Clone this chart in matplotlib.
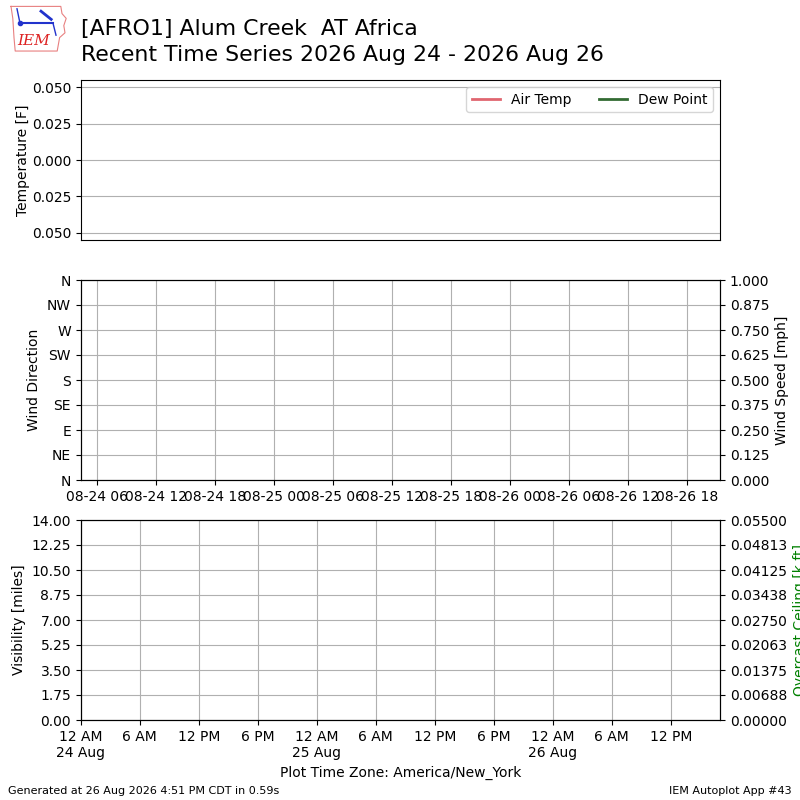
import datetime
import numpy as np
import matplotlib
matplotlib.use("Agg")
import matplotlib.pyplot as plt
import matplotlib.dates as mdates

# Station / title text
station_id = "AFRO1"
station_name = "Alum Creek  AT Africa"
title_dates = "2026 Aug 24 - 2026 Aug 26"

# Time windows (middle panel labelled in UTC, bottom panel in local time)
utc_start = datetime.datetime(2026, 8, 24, 4, 19)
utc_end = datetime.datetime(2026, 8, 26, 21, 19)
local_start = datetime.datetime(2026, 8, 24, 0, 0)
local_end = datetime.datetime(2026, 8, 26, 17, 0)

# No observations were available: all series are empty
obs_times = []
air_temp = []
dew_point = []

# Axis ticks
dir_ticks = [0, 45, 90, 135, 180, 225, 270, 315, 360]
dir_labels = ["N", "NE", "E", "SE", "S", "SW", "W", "NW", "N"]
speed_ticks = [0, 0.125, 0.25, 0.375, 0.5, 0.625, 0.75, 0.875, 1.0]
vis_ticks = [0, 1.75, 3.5, 5.25, 7.0, 8.75, 10.5, 12.25, 14.0]
ceil_ticks = [0, 0.006875, 0.01375, 0.020625, 0.0275, 0.034375, 0.04125, 0.048125, 0.055]
temp_ticks = [-0.05, -0.025, 0.0, 0.025, 0.05]
temp_labels = ["0.050", "0.025", "0.000", "0.025", "0.050"]

mid_ticks = [datetime.datetime(2026, 8, 24, 6) + datetime.timedelta(hours=6 * i) for i in range(11)]
bot_ticks = [datetime.datetime(2026, 8, 24, 0) + datetime.timedelta(hours=6 * i) for i in range(11)]
bot_labels = ["12 AM\n24 Aug", "6 AM", "12 PM", "6 PM", "12 AM\n25 Aug", "6 AM",
              "12 PM", "6 PM", "12 AM\n26 Aug", "6 AM", "12 PM"]

fig = plt.figure(figsize=(8, 8), dpi=100)

# --- logo ---
lax = fig.add_axes([0.01, 0.935, 0.075, 0.06])
iowa_x = [0.05, 0.88, 0.9, 0.97, 0.93, 0.95, 0.86, 0.82, 0.12, 0.1, 0.08, 0.05]
iowa_y = [0.95, 0.95, 0.8, 0.7, 0.55, 0.4, 0.3, 0.02, 0.02, 0.3, 0.7, 0.95]
lax.plot(iowa_x, iowa_y, color="#e88080", lw=0.8)
lax.plot([0.2, 0.75], [0.6, 0.6], color="#2233cc", lw=1.5)
lax.plot([0.2, 0.15], [0.6, 0.9], color="#2233cc", lw=1.0)
lax.plot([0.55, 0.72], [0.85, 0.68], color="#2233cc", lw=2.0)
lax.plot([0.75, 0.8], [0.6, 0.35], color="#2233cc", lw=1.0)
lax.plot([0.2], [0.6], "o", color="#2233cc", ms=3)
lax.text(0.42, 0.08, "IEM", color="#dd2222", fontsize=11, style="italic",
         family="DejaVu Serif", ha="center", va="bottom")
lax.set_xlim(0, 1)
lax.set_ylim(0, 1)
lax.axis("off")

fig.text(0.101, 0.976, f"[{station_id}] {station_name}\nRecent Time Series {title_dates}",
         fontsize=15.8, ha="left", va="top", linespacing=1.35)

# --- temperature panel ---
ax1 = fig.add_axes([0.101, 0.7, 0.799, 0.2])
ax1.plot(obs_times, air_temp, color="#e06670", lw=2, label="Air Temp")
ax1.plot(obs_times, dew_point, color="#336b33", lw=2, label="Dew Point")
ax1.set_ylim(-0.055, 0.055)
ax1.set_yticks(temp_ticks)
ax1.set_yticklabels(temp_labels)
ax1.set_xticks([])
ax1.grid(True, axis="y")
ax1.set_ylabel("Temperature [F]", labelpad=1)
ax1.legend(loc="upper right", ncol=2)

# --- wind panel ---
ax2 = fig.add_axes([0.101, 0.4, 0.799, 0.25])
ax2.set_xlim(utc_start, utc_end)
ax2.set_ylim(0, 360)
ax2.set_yticks(dir_ticks)
ax2.set_yticklabels(dir_labels)
ax2.set_xticks(mid_ticks)
ax2.xaxis.set_major_formatter(mdates.DateFormatter("%m-%d %H"))
ax2.grid(True)
ax2.set_ylabel("Wind Direction")
ax2b = ax2.twinx()
ax2b.set_ylim(0, 1)
ax2b.set_yticks(speed_ticks)
ax2b.set_ylabel("Wind Speed [mph]")

# --- visibility / ceiling panel ---
ax3 = fig.add_axes([0.101, 0.1, 0.799, 0.25])
ax3.set_xlim(local_start, local_end)
ax3.set_ylim(0, 14)
ax3.set_yticks(vis_ticks)
ax3.yaxis.set_major_formatter(matplotlib.ticker.FormatStrFormatter("%.2f"))
ax3.set_xticks(bot_ticks)
ax3.set_xticklabels(bot_labels)
ax3.grid(True)
ax3.set_ylabel("Visibility [miles]")
ax3.set_xlabel("Plot Time Zone: America/New_York")
ax3b = ax3.twinx()
ax3b.set_ylim(0, 0.055)
ax3b.set_yticks(ceil_ticks)
ax3b.yaxis.set_major_formatter(matplotlib.ticker.FormatStrFormatter("%.5f"))
ax3b.set_ylabel("Overcast Ceiling [k ft]", color="green")

fig.text(0.01, 0.008, "Generated at 26 Aug 2026 4:51 PM CDT in 0.59s", fontsize=8)
fig.text(0.99, 0.008, "IEM Autoplot App #43", fontsize=8, ha="right")

fig.savefig("out.png", dpi=100)
